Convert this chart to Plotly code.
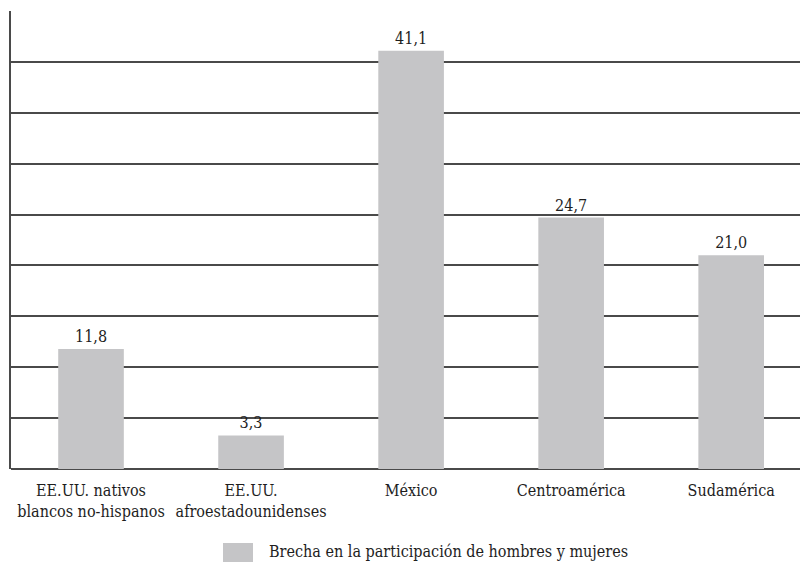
import plotly.graph_objects as go

categories = [
    "EE.UU. nativos<br>blancos no-hispanos",
    "EE.UU.<br>afroestadounidenses",
    "México",
    "Centroamérica",
    "Sudamérica",
]
brecha = [11.8, 3.3, 41.1, 24.7, 21.0]
series_name = "Brecha en la participación de hombres y mujeres"

labels = [f"{v:.1f}".replace(".", ",") for v in brecha]

font_family = "DejaVu Serif Condensed"
text_color = "#1e1e1e"
bar_color = "#c5c5c7"
line_color = "#4a4a4a"
font_size = 16

fig = go.Figure()
fig.add_trace(go.Bar(
    x=categories,
    y=brecha,
    name=series_name,
    marker=dict(color=bar_color, line=dict(width=0)),
    width=0.41,
    text=labels,
    textposition="outside",
    textfont=dict(family=font_family, size=font_size, color=text_color),
    cliponaxis=False,
    showlegend=False,
))

# legend: wide grey swatch followed by the series name, below the axis labels
fig.add_shape(
    type="rect", xref="paper", yref="paper",
    x0=0.2687, x1=0.3067, y0=-0.2031, y1=-0.1616,
    fillcolor=bar_color, line=dict(width=0),
)
fig.add_annotation(
    xref="paper", yref="paper",
    x=0.3245, y=-0.1812, xanchor="left", yanchor="middle",
    text=series_name, showarrow=False,
    font=dict(family=font_family, size=font_size, color=text_color),
)

fig.update_layout(
    width=800,
    height=564,
    margin=dict(l=11, r=0, t=11, b=95),
    paper_bgcolor="white",
    plot_bgcolor="white",
    font=dict(family=font_family, size=font_size, color=text_color),
    showlegend=False,
    xaxis=dict(
        range=[-0.5, 4.43],
        showgrid=False,
        showline=False,
        ticks="outside",
        ticklen=7,
        tickcolor="rgba(0,0,0,0)",
        automargin=False,
        tickfont=dict(family=font_family, size=font_size, color=text_color),
    ),
    yaxis=dict(
        range=[0, 45],
        dtick=5,
        showgrid=True,
        gridcolor=line_color,
        gridwidth=1.5,
        showticklabels=False,
        zeroline=True,
        zerolinecolor=line_color,
        zerolinewidth=1.5,
        showline=True,
        linecolor=line_color,
        linewidth=1.5,
        ticks="",
        automargin=False,
    ),
)

fig.write_html("out.html")
